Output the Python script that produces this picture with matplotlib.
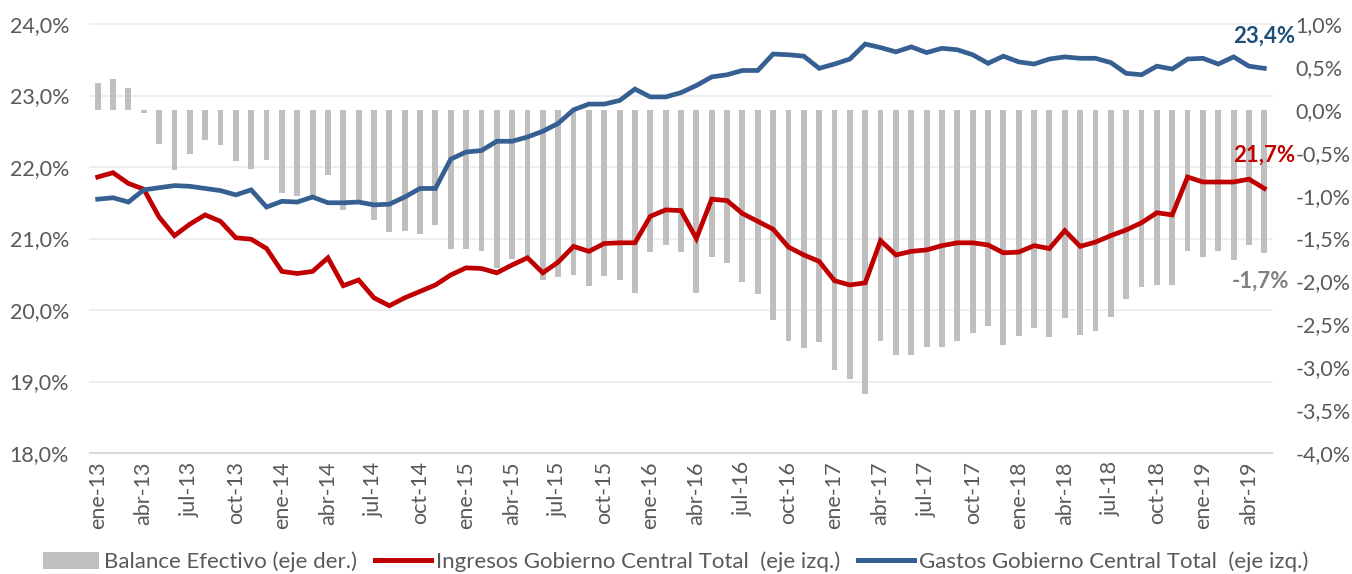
import matplotlib
matplotlib.use("Agg")
import matplotlib.pyplot as plt
from matplotlib.patches import Patch
from matplotlib.lines import Line2D
import numpy as np

months_es = ["ene", "feb", "mar", "abr", "may", "jun", "jul", "ago", "sep", "oct", "nov", "dic"]
categories = [f"{months_es[k % 12]}-{13 + k // 12}" for k in range(77)]

balance = [0.31, 0.36, 0.25, -0.04, -0.40, -0.70, -0.52, -0.35, -0.41, -0.60,
           -0.69, -0.59, -0.97, -1.01, -1.00, -0.76, -1.17, -1.05, -1.29, -1.43,
           -1.41, -1.45, -1.34, -1.62, -1.62, -1.65, -1.84, -1.74, -1.70, -1.98,
           -1.95, -1.92, -2.05, -1.94, -1.98, -2.13, -1.66, -1.58, -1.66, -2.13,
           -1.71, -1.78, -2.01, -2.15, -2.45, -2.69, -2.78, -2.71, -3.03, -3.14,
           -3.31, -2.69, -2.86, -2.86, -2.76, -2.76, -2.69, -2.60, -2.52, -2.74,
           -2.64, -2.54, -2.65, -2.43, -2.63, -2.58, -2.41, -2.20, -2.06, -2.04,
           -2.04, -1.64, -1.72, -1.65, -1.75, -1.58, -1.67]

ingresos = [21.86, 21.92, 21.77, 21.69, 21.30, 21.04, 21.20, 21.33, 21.24, 21.01,
            20.99, 20.86, 20.54, 20.51, 20.54, 20.73, 20.34, 20.42, 20.17, 20.06,
            20.17, 20.26, 20.35, 20.49, 20.59, 20.58, 20.52, 20.63, 20.73, 20.52,
            20.67, 20.89, 20.82, 20.93, 20.94, 20.94, 21.31, 21.40, 21.39, 21.00,
            21.55, 21.53, 21.35, 21.24, 21.13, 20.88, 20.77, 20.68, 20.41, 20.35,
            20.38, 20.97, 20.77, 20.82, 20.84, 20.90, 20.94, 20.94, 20.91, 20.80,
            20.81, 20.90, 20.86, 21.11, 20.89, 20.95, 21.04, 21.12, 21.22, 21.36,
            21.33, 21.86, 21.79, 21.79, 21.79, 21.83, 21.70]

gastos = [21.55, 21.57, 21.51, 21.68, 21.71, 21.74, 21.73, 21.70, 21.67, 21.61,
          21.68, 21.44, 21.52, 21.51, 21.58, 21.50, 21.50, 21.51, 21.47, 21.48,
          21.58, 21.70, 21.70, 22.11, 22.21, 22.23, 22.36, 22.36, 22.42, 22.50,
          22.61, 22.80, 22.88, 22.88, 22.93, 23.09, 22.98, 22.98, 23.04, 23.14,
          23.26, 23.29, 23.35, 23.35, 23.58, 23.57, 23.55, 23.38, 23.44, 23.51,
          23.72, 23.67, 23.61, 23.68, 23.60, 23.66, 23.64, 23.57, 23.45, 23.55,
          23.47, 23.44, 23.51, 23.54, 23.52, 23.52, 23.46, 23.31, 23.29, 23.41,
          23.37, 23.51, 23.52, 23.44, 23.54, 23.41, 23.38]

left_ticks = [18, 19, 20, 21, 22, 23, 24]
right_ticks = [-4.0, -3.5, -3.0, -2.5, -2.0, -1.5, -1.0, -0.5, 0.0, 0.5, 1.0]

FONT = "Lato"
plt.rcParams["font.family"] = [FONT, "DejaVu Sans"]
TXT = "#595959"
RED = "#C00000"
BLUE = "#366092"
GRAY_BAR = "#BFBFBF"
FS = 15.5

fig = plt.figure(figsize=(13.52, 5.74), dpi=100)
ax = fig.add_axes([90 / 1352, 1 - 453 / 574, (1272 - 90) / 1352, (453 - 24) / 574])
ax2 = ax.twinx()

x = np.arange(len(categories))

ax.set_zorder(2)
ax.patch.set_visible(False)
ax2.set_zorder(1)

ax.set_ylim(18, 24)
ax2.set_ylim(-4, 1)
ax.set_xlim(-0.5, len(categories) - 0.5)

for t in left_ticks[1:]:
    ax2.plot([0, 1], [t, t], transform=ax.get_yaxis_transform(),
             color="#EBEBEB", lw=1.2, zorder=0, clip_on=False)
ax2.plot([0, 1], [18, 18], transform=ax.get_yaxis_transform(),
         color="#D9D9D9", lw=1.5, zorder=0, clip_on=False)

ax2.bar(x, balance, width=0.38, color=GRAY_BAR, zorder=2)
ax.plot(x, ingresos, color=RED, lw=3.4, solid_joinstyle="miter", zorder=3)
ax.plot(x, gastos, color=BLUE, lw=3.4, solid_joinstyle="miter", zorder=3)

for a in (ax, ax2):
    for s in a.spines.values():
        s.set_visible(False)

ax.set_yticks(left_ticks)
ax.set_yticklabels([f"{t:.1f}%".replace(".", ",") for t in left_ticks])
ax2.set_yticks(right_ticks)
ax2.set_yticklabels([f"{t:.1f}%".replace(".", ",") for t in right_ticks])
ax.tick_params(axis="y", length=0, pad=15, labelsize=FS, labelcolor=TXT)
ax2.tick_params(axis="y", length=0, pad=17, labelsize=FS, labelcolor=TXT)

ax.set_xticks(x[::3])
ax.set_xticklabels(categories[::3], rotation=90)
ax.tick_params(axis="x", length=0, pad=6, labelsize=FS, labelcolor=TXT)

ax.annotate("23,4%", xy=(x[-1], gastos[-1]), xytext=(0, 23), textcoords="offset points",
            ha="center", va="center", fontsize=16, fontweight="bold", color="#1F4E79")
ax.annotate("21,7%", xy=(x[-1], ingresos[-1]), xytext=(0, 24), textcoords="offset points",
            ha="center", va="center", fontsize=16, fontweight="bold", color=RED)
ax2.annotate("-1,7%", xy=(x[-1], balance[-1]), xytext=(-3, -20), textcoords="offset points",
             ha="center", va="center", fontsize=16, fontweight="bold", color="#808080")

handles = [Patch(facecolor=GRAY_BAR, edgecolor="none"),
           Line2D([0], [0], color=RED, lw=3.6),
           Line2D([0], [0], color=BLUE, lw=3.6)]
labels = ["Balance Efectivo (eje der.)",
          "Ingresos Gobierno Central Total  (eje izq.)",
          "Gastos Gobierno Central Total  (eje izq.)"]
fig.legend(handles, labels, loc="center", bbox_to_anchor=(0.5, 1 - 562 / 574), ncol=3,
           frameon=False, fontsize=16, labelcolor=TXT, handlelength=2.5,
           handleheight=0.8, handletextpad=0.25, columnspacing=0.8,
           borderpad=0.1)

fig.savefig("out.png", dpi=100)
